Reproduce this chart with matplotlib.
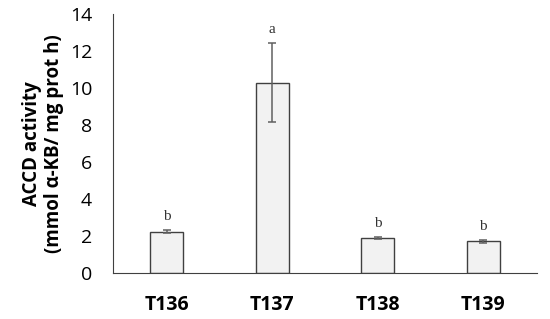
import numpy as np
import matplotlib
matplotlib.use("Agg")
import matplotlib.pyplot as plt

# data
strains = ["T136", "T137", "T138", "T139"]
accd = [2.23, 10.29, 1.87, 1.70]
accd_err = [0.06, 2.14, 0.06, 0.07]
letters = ["b", "a", "b", "b"]

fig = plt.figure(figsize=(5.5, 3.19), dpi=100)
ax = fig.add_axes([0.2055, 0.145, 0.771, 0.811])

x = np.arange(len(strains))
ax.bar(x, accd, width=0.31, color="#f2f2f2", edgecolor="#404040", linewidth=1.0,
       yerr=accd_err, error_kw=dict(ecolor="#606060", elinewidth=1.1, capsize=3, capthick=1.1))

for xi, v, e, lab in zip(x, accd, accd_err, letters):
    ax.text(xi, v + e + 0.75, lab, ha="center", va="center",
            fontsize=11, family="Liberation Serif", color="#333333")

ax.set_xlim(-0.51, 3.51)
ax.set_ylim(0, 14)
ax.set_yticks(range(0, 15, 2))
ax.set_xticks(x)
ax.set_xticklabels(strains, fontsize=14, fontweight="bold", family="Open Sans")
for t in ax.get_yticklabels():
    t.set_fontsize(14)
    t.set_family("Open Sans")
ax.tick_params(axis="both", length=0)
ax.tick_params(axis="x", pad=16)
ax.tick_params(axis="y", pad=15)

for s in ["top", "right"]:
    ax.spines[s].set_visible(False)
ax.spines["left"].set_color("#404040")
ax.spines["bottom"].set_color("#404040")

ax.set_ylabel("ACCD activity\n(mmol \u03b1-KB/ mg prot h)", fontsize=13.5,
              fontweight="bold", family="Open Sans", labelpad=4, linespacing=1.15)

fig.savefig("out.png", dpi=100)
